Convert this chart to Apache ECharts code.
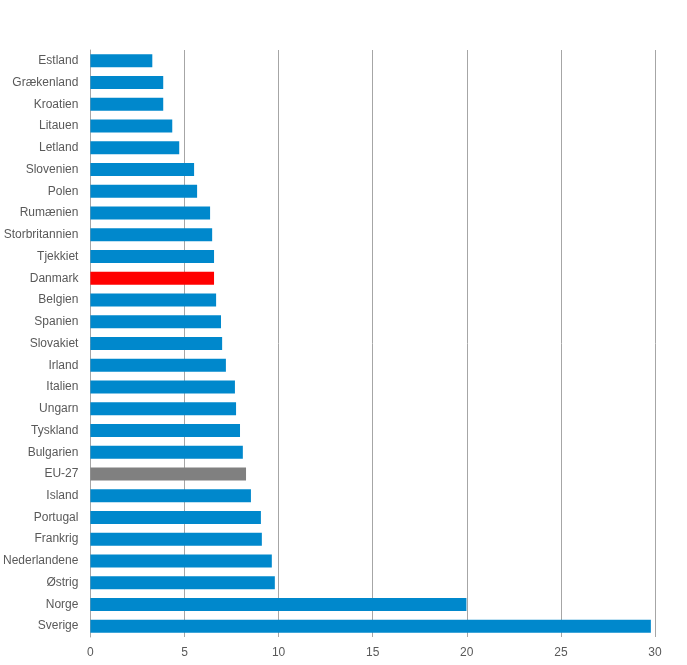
<!DOCTYPE html>
<html><head><meta charset="utf-8">
<script src="https://cdn.jsdelivr.net/npm/echarts@6/dist/echarts.min.js"></script>
<style>html,body{margin:0;padding:0;background:#fff}#main{width:687px;height:665px}</style>
</head><body><div id="main"></div>
<script>
var countries = ['Estland','Grækenland','Kroatien','Litauen','Letland','Slovenien','Polen','Rumænien','Storbritannien','Tjekkiet','Danmark','Belgien','Spanien','Slovakiet','Irland','Italien','Ungarn','Tyskland','Bulgarien','EU-27','Island','Portugal','Frankrig','Nederlandene','Østrig','Norge','Sverige'];
var values = [3.29,3.87,3.87,4.35,4.72,5.51,5.67,6.36,6.47,6.57,6.57,6.68,6.94,7.0,7.2,7.68,7.74,7.95,8.1,8.27,8.53,9.06,9.11,9.64,9.8,19.98,29.78];
var highlight = {'Danmark':'#ff0000','EU-27':'#808080'};

var chart = echarts.init(document.getElementById('main'));
chart.setOption({
  animation:false,
  textStyle:{fontFamily:'Liberation Sans'},
  grid:{left:89,right:32,top:50,bottom:28},
  xAxis:{type:'value',min:0,max:30,interval:5,
    axisLine:{show:false},axisTick:{show:false},
    axisLabel:{color:'#595959',fontSize:12,margin:10},
    splitLine:{lineStyle:{color:'#a6a6a6',width:1}}},
  yAxis:{type:'category',inverse:true,data:countries,
    axisLine:{lineStyle:{color:'#a6a6a6'}},axisTick:{show:false},
    axisLabel:{color:'#595959',fontSize:12,margin:12}},
  series:[{type:'bar',barWidth:13,
    data:values.map(function(v,i){return {value:v,itemStyle:{color:highlight[countries[i]]||'#0088cc'}};})}]
});
</script></body></html>
